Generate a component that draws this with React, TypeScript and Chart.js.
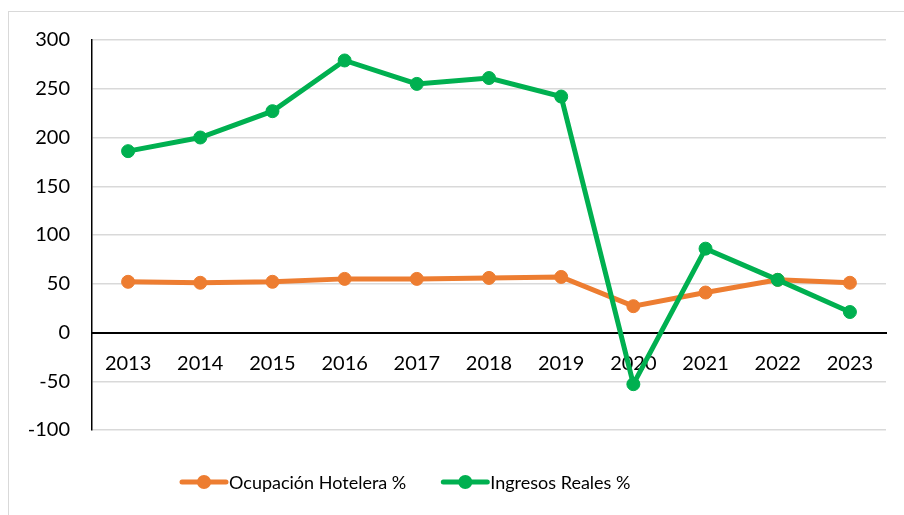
import React, { useEffect, useRef } from "react";
import { Chart, registerables } from "chart.js";

Chart.register(...registerables);

const years = ["2013", "2014", "2015", "2016", "2017", "2018", "2019", "2020", "2021", "2022", "2023"];
const ocupacion = [52, 51, 52, 55, 55, 56, 57, 27, 41, 54, 51];
const ingresos = [186, 200, 227, 279, 255, 261, 242, -53, 86, 54, 21];
const seriesLabels = ["Ocupación Hotelera %", "Ingresos Reales %"];
const seriesColors = ["#ED7D31", "#00B050"];

const FONT = "Lato, 'Open Sans', sans-serif";

const legendPlugin = {
  id: "customLegend",
  afterDraw(chart: any) {
    const ctx = chart.ctx;
    ctx.save();
    ctx.font = `18px ${FONT}`;
    ctx.textBaseline = "middle";
    ctx.textAlign = "left";
    let x = 182;
    const y = 482;
    chart.data.datasets.forEach((ds: any) => {
      ctx.strokeStyle = ds.borderColor;
      ctx.lineWidth = 5;
      ctx.lineCap = "round";
      ctx.beginPath();
      ctx.moveTo(x, y);
      ctx.lineTo(x + 44, y);
      ctx.stroke();
      ctx.fillStyle = ds.borderColor;
      ctx.beginPath();
      ctx.arc(x + 22, y, 7, 0, Math.PI * 2);
      ctx.fill();
      ctx.fillStyle = "#000";
      ctx.fillText(ds.label, x + 47, y + 1);
      x += 47 + ctx.measureText(ds.label).width + 37;
    });
    ctx.restore();
  },
};

export default function App() {
  const ref = useRef<HTMLCanvasElement>(null);
  useEffect(() => {
    if (!ref.current) return;
    const chart = new Chart(ref.current, {
      type: "line",
      data: {
        labels: years,
        datasets: [
          {
            label: seriesLabels[0],
            data: ocupacion,
            borderColor: seriesColors[0],
            backgroundColor: seriesColors[0],
            pointBackgroundColor: seriesColors[0],
            pointBorderColor: seriesColors[0],
            borderWidth: 5,
            pointRadius: 6.5,
            pointBorderWidth: 1,
            tension: 0,
            order: 1,
          },
          {
            label: seriesLabels[1],
            data: ingresos,
            borderColor: seriesColors[1],
            backgroundColor: seriesColors[1],
            pointBackgroundColor: seriesColors[1],
            pointBorderColor: seriesColors[1],
            borderWidth: 5,
            pointRadius: 6.5,
            pointBorderWidth: 1,
            tension: 0,
            order: 0,
          },
        ],
      },
      options: {
        animation: false,
        responsive: false,
        maintainAspectRatio: false,
        layout: { padding: { left: 0, top: 40, right: 18, bottom: 85 } },
        plugins: {
          legend: { display: false },
          tooltip: { enabled: false },
        },
        scales: {
          x: {
            position: { y: 0 } as any,
            offset: true,
            grid: { display: false, drawTicks: false },
            border: { display: true, color: "#000", width: 2 },
            ticks: {
              padding: 19,
              color: "#000",
              font: { family: FONT, size: 20 },
              maxRotation: 0,
            },
          },
          y: {
            min: -100,
            max: 300,
            afterFit: (s: any) => {
              s.width = 92;
            },
            grid: { color: "#d9d9d9", lineWidth: 1.5, drawTicks: false },
            border: { display: true, color: "#000", width: 1.5 },
            ticks: {
              stepSize: 50,
              padding: 22,
              color: "#000",
              font: { family: FONT, size: 20 },
            },
          },
        },
      },
      plugins: [legendPlugin],
    });
    return () => chart.destroy();
  }, []);
  return (
    <div style={{ position: "fixed", left: 0, top: 0, width: 904, height: 515, background: "#fff", overflow: "hidden" }}>
      <div
        style={{
          position: "absolute",
          left: 8,
          top: 11,
          width: 920,
          height: 540,
          border: "1.5px solid #d9d9d9",
          boxSizing: "border-box",
        }}
      />
      <canvas ref={ref} width={904} height={515} style={{ position: "absolute", left: 0, top: 0 }} />
    </div>
  );
}
